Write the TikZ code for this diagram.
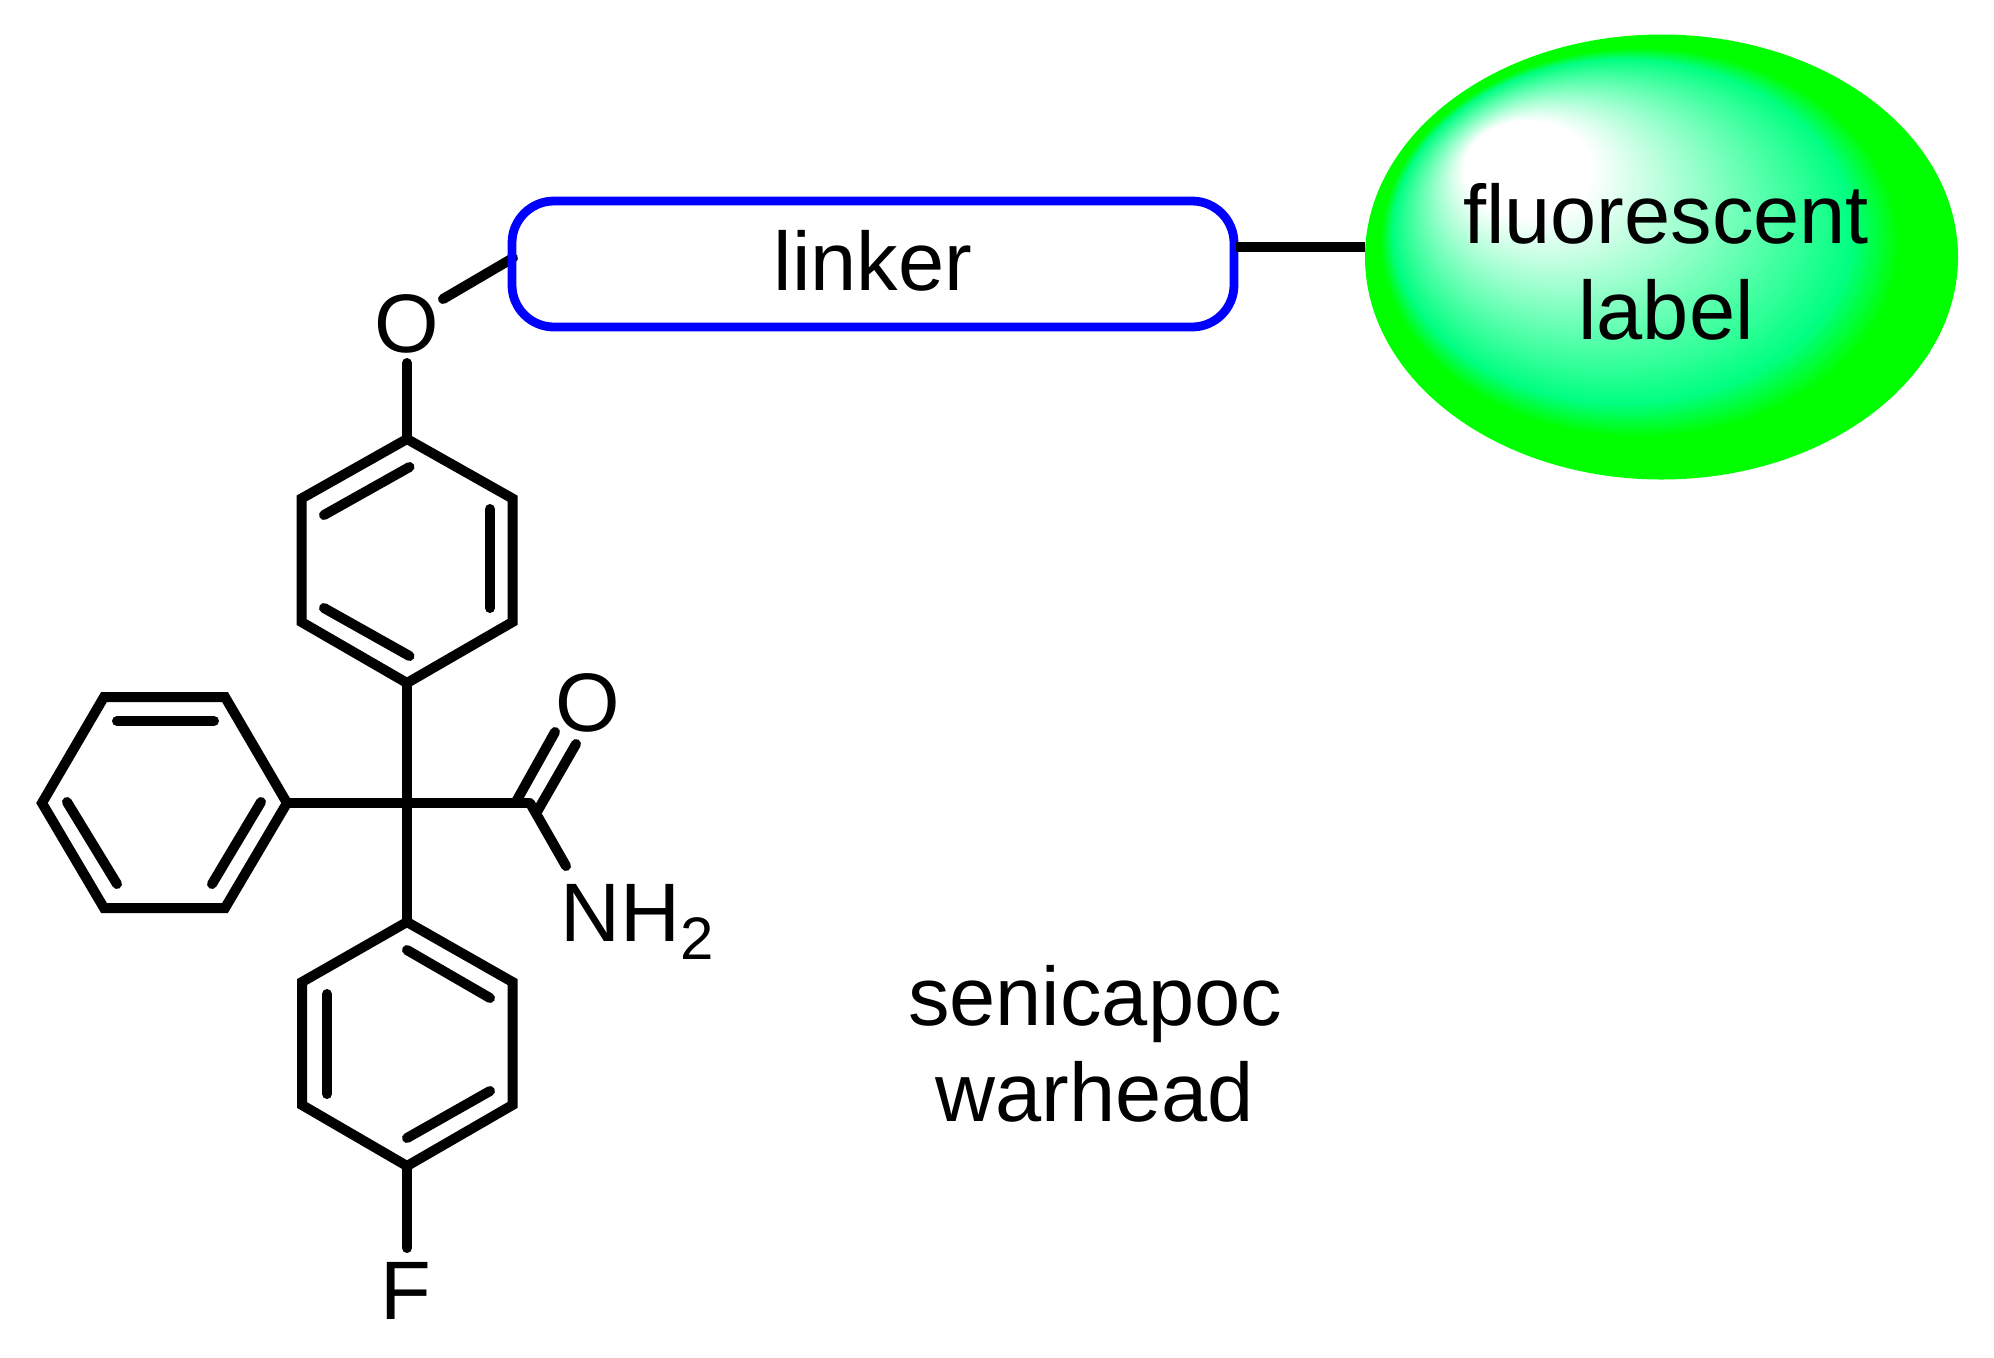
\documentclass[tikz,border=0pt]{standalone}
\usepackage{fontspec}
\setmainfont{Liberation Sans}
\usetikzlibrary{shapes.geometric}
\definecolor{springg}{RGB}{0,255,128}
\definecolor{limeg}{RGB}{0,255,0}
\definecolor{linkblue}{RGB}{0,0,255}
\tikzset{
  bond/.style={line width=5pt,line cap=round,line join=miter,black},
  atom/.style={font=\fontsize{41.5}{48}\selectfont,inner sep=0pt,anchor=base},
  caption/.style={font=\fontsize{41.5}{48}\selectfont,inner sep=0pt,align=center,anchor=center},
}
\begin{document}
\begin{tikzpicture}[x=0.5pt,y=-0.5pt]
\useasboundingbox (0,0) rectangle (1994,1357);
% ring 1
\coordinate (a1) at (407,439);
\coordinate (a2) at (512.5,498.5);
\coordinate (a3) at (512.5,622);
\coordinate (a4) at (407,683);
\coordinate (a5) at (301.5,622);
\coordinate (a6) at (301.5,498.5);
% ring 2
\coordinate (b1) at (287,803);
\coordinate (b2) at (225,697);
\coordinate (b3) at (104,697);
\coordinate (b4) at (42,803);
\coordinate (b5) at (104,908);
\coordinate (b6) at (225,908);
% ring 3
\coordinate (c1) at (407,922);
\coordinate (c2) at (512.5,982);
\coordinate (c3) at (512.5,1105);
\coordinate (c4) at (407,1166);
\coordinate (c5) at (302,1105);
\coordinate (c6) at (302,982);
% centre and amide
\coordinate (q) at (407,803);
\coordinate (co) at (530,803);
% atoms
\node[atom] (o1) at (407,352) {O};
\node[atom] (o2) at (588,731) {O};
\node[atom,anchor=base west] (n) at (560,941) {NH\raisebox{-18\dimexpr0.5pt\relax}{\fontsize{30}{34}\selectfont 2}};
\node[atom] (f) at (406,1319) {F};
% bond ends beside atoms
\coordinate (o1s) at (407,363);
\coordinate (o1e) at (443,299);
\coordinate (o1l) at (513,258);
\coordinate (fe) at (407,1248);
\coordinate (ne) at (566,866);
% rings
\draw[bond] (a1)--(a2)--(a3)--(a4)--(a5)--(a6)--cycle;
\draw[bond] (b1)--(b2)--(b3)--(b4)--(b5)--(b6)--cycle;
\draw[bond] (c1)--(c2)--(c3)--(c4)--(c5)--(c6)--cycle;
% inner double bonds
\coordinate (i1) at (324,515); \coordinate (i2) at (409.5,467);
\coordinate (i3) at (490,509); \coordinate (i4) at (490,608);
\coordinate (i5) at (324,608); \coordinate (i6) at (409.5,656);
\draw[bond] (i1)--(i2); \draw[bond] (i3)--(i4); \draw[bond] (i5)--(i6);
\coordinate (j1) at (117,721); \coordinate (j2) at (214,721);
\coordinate (j3) at (67,802); \coordinate (j4) at (117,884);
\coordinate (j5) at (212,884); \coordinate (j6) at (261,802);
\draw[bond] (j1)--(j2); \draw[bond] (j3)--(j4); \draw[bond] (j5)--(j6);
\coordinate (k1) at (407,950); \coordinate (k2) at (490,998);
\coordinate (k3) at (327,994); \coordinate (k4) at (327,1094);
\coordinate (k5) at (407,1138); \coordinate (k6) at (490,1091);
\draw[bond] (k1)--(k2); \draw[bond] (k3)--(k4); \draw[bond] (k5)--(k6);
% skeleton
\draw[bond] (a4)--(c1);
\draw[bond,line cap=butt] (b1)--(co);
\draw[bond] (o1s)--(a1);
\draw[bond] (c4)--(fe);
\draw[bond] (o1e)--(o1l);
\draw[bond] (co)--(ne);
\coordinate (d1) at (517,800); \coordinate (d2) at (555,732);
\coordinate (d3) at (538,810); \coordinate (d4) at (576,744);
\draw[bond] (d1)--(d2); \draw[bond] (d3)--(d4);
% linker
\node[draw=linkblue,line width=4.4pt,rounded corners=21pt,minimum width=361pt,minimum height=63pt,
  inner sep=0pt,outer sep=0pt,text height=30pt,text depth=4pt,font=\fontsize{41.5}{48}\selectfont] (link) at (873,264) {linker};
% fluorescent label: nested ellipses drifting towards the highlight
\node[ellipse,fill=limeg,minimum width=296.5pt,minimum height=222.5pt,inner sep=0pt,outer sep=0pt] (lab) at (1661.5,257) {};
\foreach \t in {99,98,...,1}{
  \pgfmathsetmacro{\fr}{1-\t/100}
  \ifnum\t>87 \colorlet{cur}{limeg}\else
    \ifnum\t>77 \pgfmathsetmacro{\mm}{(88-\t)*10}\colorlet{cur}{springg!\mm!limeg}\else
      \ifnum\t>21 \pgfmathsetmacro{\mm}{(\t-22)/56*100}\colorlet{cur}{springg!\mm!white}\else
        \colorlet{cur}{white}\fi\fi\fi
  \fill[cur]
    ([xshift={-85*\fr*1pt},yshift={56*\fr*1pt}]lab.center)
    ellipse [x radius={\t*1.4825pt},y radius={\t*1.1125pt}];
}
\draw[line width=5pt] ([xshift=1pt,yshift=8.5pt]link.east) -- ([yshift=5pt]lab.west);
\node[caption] (labtext) at (1666,262) {fluorescent\\label};
\node[caption] (war) at (1095,1044) {senicapoc\\warhead};
\end{tikzpicture}
\end{document}
